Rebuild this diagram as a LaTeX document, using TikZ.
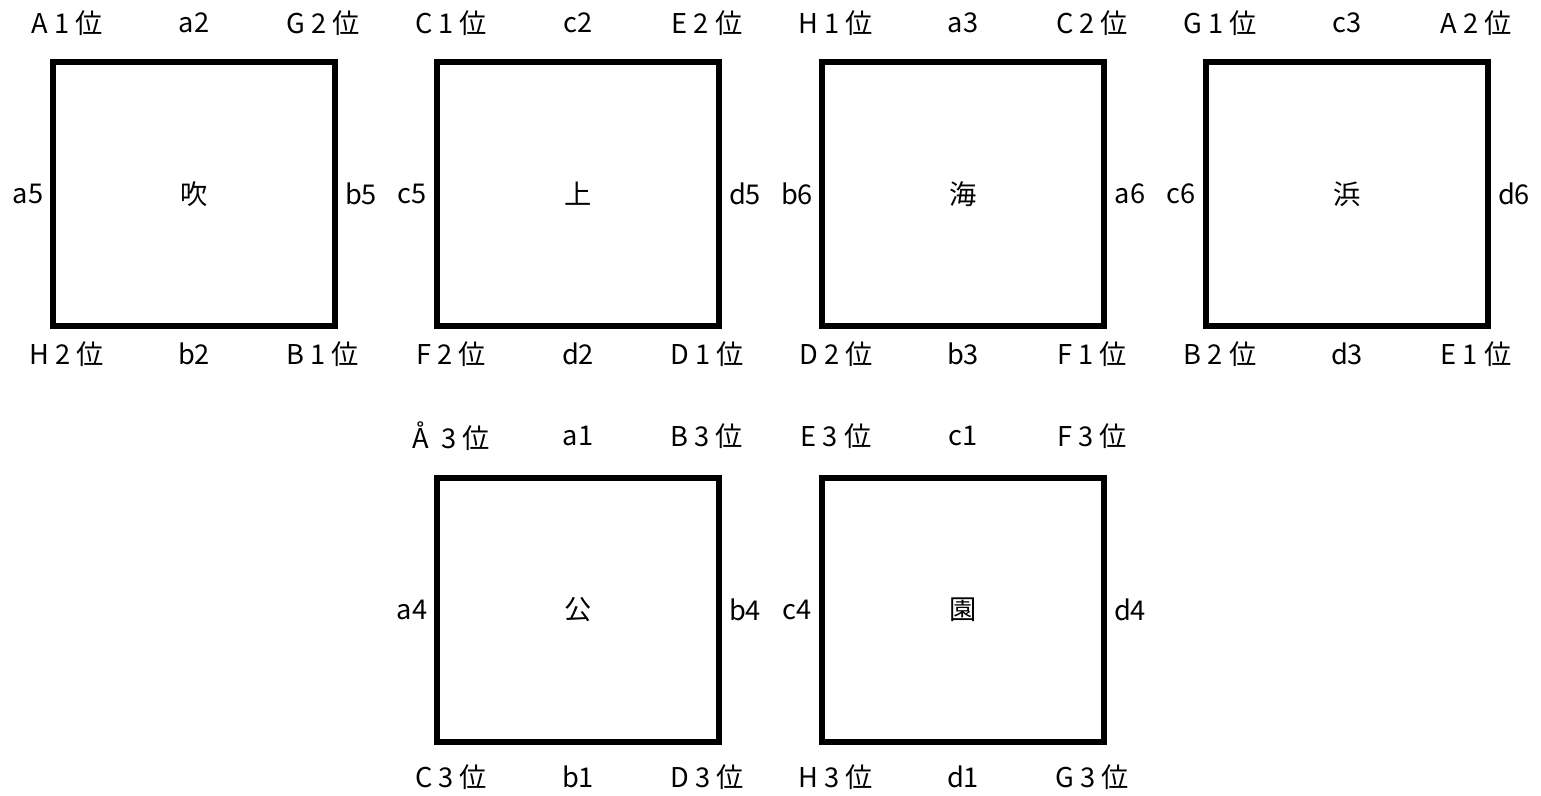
\documentclass[tikz,border=0pt]{standalone}
\usepackage{fontspec}
\setmainfont{Noto Sans CJK JP}
\usetikzlibrary{positioning,calc}

\begin{document}
\begin{tikzpicture}[x=0.02cm, y=-0.02cm,
        plate/.style={draw, line width=3.4pt, line join=miter, minimum width=5.64cm, minimum height=5.28cm, font=\fontsize{15.5}{18}\selectfont},
        lbl/.style={font=\fontsize{15.5}{18}\selectfont, inner sep=0pt}
    ]
        \useasboundingbox (0,0) rectangle (1541,795);

        % --- 上段 ---
        \node[plate] (fuki) at (194,194) {吹};
        \node[lbl] (fuki-tl) at (67,23) {A 1 位};
        \node[lbl] (fuki-t) at (194,23) {a2};
        \node[lbl] (fuki-tr) at (323,23) {G 2 位};
        \node[lbl] (fuki-l) at (28,194) {a5};
        \node[lbl] (fuki-r) at (361,194) {b5};
        \node[lbl] (fuki-bl) at (67,354) {H 2 位};
        \node[lbl] (fuki-b) at (194,354) {b2};
        \node[lbl] (fuki-br) at (323,354) {B 1 位};

        \node[plate] (kami) at (578,194) {上};
        \node[lbl] (kami-tl) at (451,23) {C 1 位};
        \node[lbl] (kami-t) at (578,23) {c2};
        \node[lbl] (kami-tr) at (707,23) {E 2 位};
        \node[lbl] (kami-l) at (412,194) {c5};
        \node[lbl] (kami-r) at (745,194) {d5};
        \node[lbl] (kami-bl) at (451,354) {F 2 位};
        \node[lbl] (kami-b) at (578,354) {d2};
        \node[lbl] (kami-br) at (707,354) {D 1 位};

        \node[plate] (umi) at (963,194) {海};
        \node[lbl] (umi-tl) at (836,23) {H 1 位};
        \node[lbl] (umi-t) at (963,23) {a3};
        \node[lbl] (umi-tr) at (1092,23) {C 2 位};
        \node[lbl] (umi-l) at (797,194) {b6};
        \node[lbl] (umi-r) at (1130,194) {a6};
        \node[lbl] (umi-bl) at (836,354) {D 2 位};
        \node[lbl] (umi-b) at (963,354) {b3};
        \node[lbl] (umi-br) at (1092,354) {F 1 位};

        \node[plate] (hama) at (1347,194) {浜};
        \node[lbl] (hama-tl) at (1220,23) {G 1 位};
        \node[lbl] (hama-t) at (1347,23) {c3};
        \node[lbl] (hama-tr) at (1476,23) {A 2 位};
        \node[lbl] (hama-l) at (1181,194) {c6};
        \node[lbl] (hama-r) at (1514,194) {d6};
        \node[lbl] (hama-bl) at (1220,354) {B 2 位};
        \node[lbl] (hama-b) at (1347,354) {d3};
        \node[lbl] (hama-br) at (1476,354) {E 1 位};

        % --- 下段 ---
        \node[plate] (kou) at (578,610) {公};
        \node[lbl] (kou-tl) at (451,436) {Å\ \ 3 位};
        \node[lbl] (kou-t) at (578,436) {a1};
        \node[lbl] (kou-tr) at (707,436) {B 3 位};
        \node[lbl] (kou-l) at (412,610) {a4};
        \node[lbl] (kou-r) at (745,610) {b4};
        \node[lbl] (kou-bl) at (451,777) {C 3 位};
        \node[lbl] (kou-b) at (578,777) {b1};
        \node[lbl] (kou-br) at (707,777) {D 3 位};

        \node[plate] (en) at (963,610) {園};
        \node[lbl] (en-tl) at (836,436) {E 3 位};
        \node[lbl] (en-t) at (963,436) {c1};
        \node[lbl] (en-tr) at (1092,436) {F 3 位};
        \node[lbl] (en-l) at (797,610) {c4};
        \node[lbl] (en-r) at (1130,610) {d4};
        \node[lbl] (en-bl) at (836,777) {H 3 位};
        \node[lbl] (en-b) at (963,777) {d1};
        \node[lbl] (en-br) at (1092,777) {G 3 位};
    \end{tikzpicture}
\end{document}
